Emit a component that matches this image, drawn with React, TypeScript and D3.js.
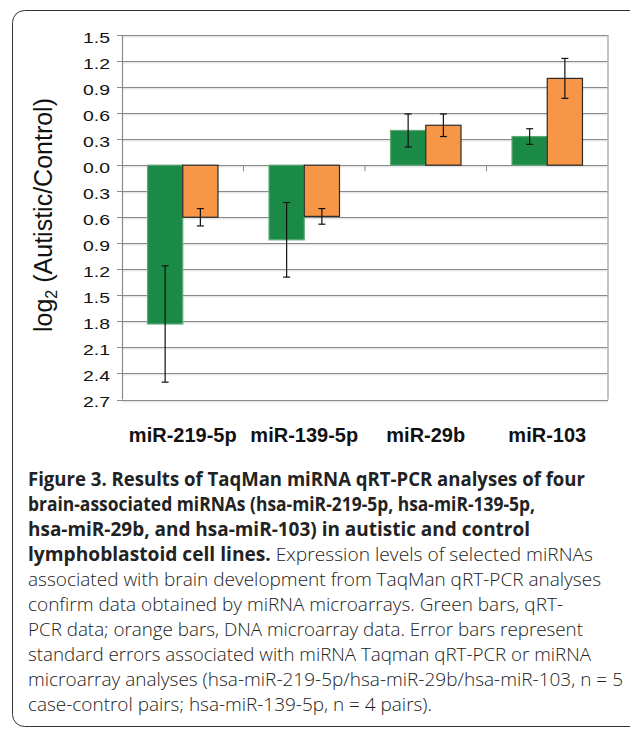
import React from "react";
import * as d3 from "d3";

const categories = ["miR-219-5p", "miR-139-5p", "miR-29b", "miR-103"];
const qpcr = [-1.83, -0.86, 0.4, 0.33];
const qpcrErr = [0.67, 0.43, 0.19, 0.09];
const array = [-0.6, -0.59, 0.46, 1.0];
const arrayErr = [0.1, 0.09, 0.13, 0.23];
const yTicks = [1.5, 1.2, 0.9, 0.6, 0.3, 0, -0.3, -0.6, -0.9, -1.2, -1.5, -1.8, -2.1, -2.4, -2.7];

// caption lines (bold lead-in, then regular text) and their measured widths
const captionLines = [
  { bold: "Figure 3. Results of TaqMan miRNA qRT-PCR analyses of four", normal: "", w: 557 },
  { bold: "brain-associated miRNAs (hsa-miR-219-5p, hsa-miR-139-5p,", normal: "", w: 507 },
  { bold: "hsa-miR-29b, and hsa-miR-103) in autistic and control", normal: "", w: 502 },
  { bold: "lymphoblastoid cell lines.", normal: " Expression levels of selected miRNAs", w: 565 },
  { bold: "", normal: "associated with brain development from TaqMan qRT-PCR analyses", w: 573 },
  { bold: "", normal: "confirm data obtained by miRNA microarrays. Green bars, qRT-", w: 535 },
  { bold: "", normal: "PCR data; orange bars, DNA microarray data. Error bars represent", w: 555 },
  { bold: "", normal: "standard errors associated with miRNA Taqman qRT-PCR or miRNA", w: 563 },
  { bold: "", normal: "microarray analyses (hsa-miR-219-5p/hsa-miR-29b/hsa-miR-103, n = 5", w: 595 },
  { bold: "", normal: "case-control pairs; hsa-miR-139-5p, n = 4 pairs).", w: 404 },
];

const GREEN = "#1c8a47";
const ORANGE = "#f79646";

export default function App() {
  const left = 122;
  const right = 608;
  const x = d3.scaleBand<string>().domain(categories).range([left, right]).paddingInner(0).paddingOuter(0);
  const y = d3.scaleLinear().domain([-2.7, 1.5]).range([399.5, 35]);
  const groupW = x.bandwidth() * 0.58;
  const barW = groupW / 2;
  const fmt = d3.format(".1f");
  const font = "Arial, 'Liberation Sans', sans-serif";

  const bar = (v: number, i: number, off: number, fill: string, stroke: string) => {
    const cx = (x(categories[i]) as number) + x.bandwidth() / 2;
    const bx = cx - groupW / 2 + off * barW;
    const y0 = y(0);
    const yv = y(v);
    return (
      <rect
        key={`b${off}-${i}`}
        x={bx}
        y={Math.min(y0, yv)}
        width={barW}
        height={Math.abs(yv - y0)}
        fill={fill}
        stroke={stroke}
        strokeWidth={1.2}
      />
    );
  };

  const errBar = (v: number, e: number, i: number, off: number) => {
    const cx = (x(categories[i]) as number) + x.bandwidth() / 2 - groupW / 2 + off * barW + barW / 2;
    const y1 = y(v + e);
    const y2 = y(v - e);
    return (
      <g key={`e${off}-${i}`} stroke="#111" strokeWidth={1.2}>
        <line x1={cx} x2={cx} y1={y1} y2={y2} />
        <line x1={cx - 3.5} x2={cx + 3.5} y1={y1} y2={y1} />
        <line x1={cx - 3.5} x2={cx + 3.5} y1={y2} y2={y2} />
      </g>
    );
  };

  return (
    <svg width={630} height={735} style={{ position: "absolute", left: 0, top: 0, display: "block" }}>
      <rect x={12.5} y={10.5} width={700} height={716} rx={12} fill="#fff" stroke="#333" strokeWidth={1} />

      {yTicks.map((t) => (
        <g key={t}>
          <line x1={left - 5} x2={right} y1={Math.round(y(t)) + 0.5} y2={Math.round(y(t)) + 0.5} stroke="#8a8a8a" strokeWidth={1.2} />
          <line x1={left} x2={right} y1={Math.round(y(t)) + 1.8} y2={Math.round(y(t)) + 1.8} stroke="#dcdcdc" strokeWidth={1} />
          <text
            x={110}
            y={y(t) + 7.8}
            textAnchor="end"
            fontFamily={font}
            fontSize={15}
            fill="#111"
            textLength={27}
            lengthAdjust="spacingAndGlyphs"
          >
            {fmt(Math.abs(t))}
          </text>
        </g>
      ))}
      <line x1={left + 0.5} x2={left + 0.5} y1={y(1.5)} y2={y(-2.7)} stroke="#8a8a8a" strokeWidth={1.2} />
      <line x1={right} x2={right} y1={y(1.5)} y2={y(-2.7)} stroke="#b0b0b0" strokeWidth={1.5} />

      {categories.slice(1).map((c) => (
        <line key={c} x1={x(c)} x2={x(c)} y1={y(0)} y2={y(0) + 6} stroke="#8a8a8a" strokeWidth={1} />
      ))}

      {qpcr.map((v, i) => bar(v, i, 0, GREEN, "#5fa877"))}
      {array.map((v, i) => bar(v, i, 1, ORANGE, "#2a2a2a"))}
      {qpcr.map((v, i) => errBar(v, qpcrErr[i], i, 0))}
      {array.map((v, i) => errBar(v, arrayErr[i], i, 1))}

      {categories.map((c) => (
        <text
          key={c}
          x={(x(c) as number) + x.bandwidth() / 2}
          y={442}
          textAnchor="middle"
          fontFamily={font}
          fontWeight="bold"
          fontSize={20}
          fill="#111"
        >
          {c}
        </text>
      ))}

      <text
        transform={`translate(52,215) rotate(-90)`}
        textAnchor="middle"
        fontFamily={font}
        fontSize={25}
        fill="#111"
      >
        log
        <tspan fontSize={16} dy={5}>2</tspan>
        <tspan dy={-5}> (Autistic/Control)</tspan>
      </text>

      {captionLines.map((l, i) => (
        <text
          key={i}
          x={28}
          y={486 + i * 25}
          fontFamily="'Open Sans', 'Noto Sans', sans-serif"
          fontSize={19}
          fill="#222"
          textLength={l.w}
          lengthAdjust="spacingAndGlyphs"
        >
          {l.bold && <tspan fontWeight="bold">{l.bold}</tspan>}
          {l.normal && <tspan fontWeight="300">{l.normal}</tspan>}
        </text>
      ))}
    </svg>
  );
}
